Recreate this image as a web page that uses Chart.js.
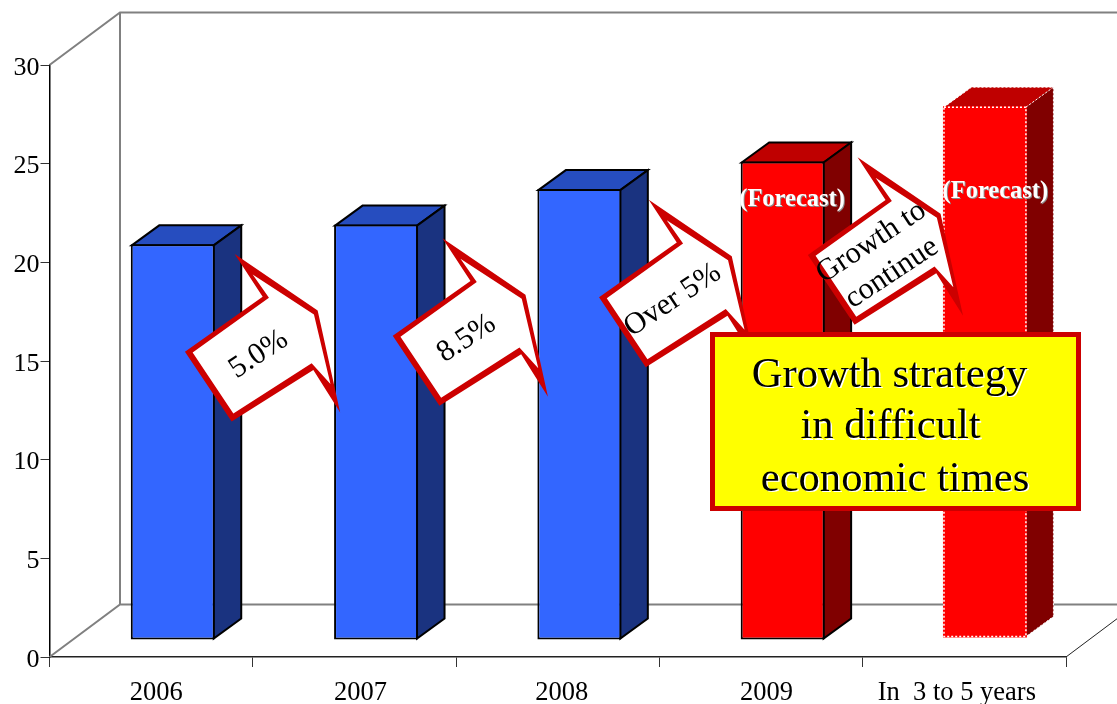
<!DOCTYPE html>
<html>
<head>
<meta charset="utf-8">
<style>html,body{margin:0;padding:0;background:#fff}canvas{display:block}</style>
<script src="https://cdn.jsdelivr.net/npm/chart.js@4/dist/chart.umd.min.js"></script>
</head>
<body>
<canvas id="c" width="1117" height="704"></canvas>
<script>
const categories = ['2006', '2007', '2008', '2009', 'In  3 to 5 years'];
const solidValues = [20.05, 21.05, 22.85, 24.25, null];
const dottedValues = [null, null, null, null, 26.95];
const frontColors = ['#3366FF', '#3366FF', '#3366FF', '#FF0000', '#FF0000'];
const topColors = ['#264DBF', '#264DBF', '#264DBF', '#BF0000', '#BF0000'];
const sideColors = ['#1A3380', '#1A3380', '#1A3380', '#800000', '#800000'];
const yTicks = [0, 5, 10, 15, 20, 25, 30];
const tickLabelShift = [5, 6, 4, 5.5, -7.5];
const calloutLines = [['5.0%'], ['8.5%'], ['Over 5%'], ['Growth to', 'continue']];
const calloutCategory = [0, 1, 2, 3];
const calloutShift = [84.5, 89, 92, 97.5];
const calloutLevel = [20.35, 21.15, 23.1, 25.25];
const forecastLabels = ['(Forecast)', '(Forecast)'];
const forecastCategory = [3, 4];
const forecastLevel = [23.2, 23.6];
const boxLines = ['Growth strategy', 'in difficult', 'economic times'];

const SERIF = '"Liberation Serif", "Times New Roman", serif';
Chart.defaults.font.family = SERIF;
const WALL = {dx: 70.5, dy: -52.5};
const SIDE = {dx: 27.5, dy: -20};
const SHIFTS = [{dx: 21.6, dy: -17}, {dx: 20.6, dy: -19}];
const OUTLINE = [[-1,-1.5],[82,55],[104.5,157],[77.7,114.5],[-4,166],[-50.7,96.2],[27,41.3]];
const INLINE = [[17,19],[78.3,59],[94.8,128.5],[76,107.8],[-2.3,158],[-43,97],[33.3,42.3]];

function poly(ctx, pts, fill, stroke, lw, dash) {
  ctx.save();
  ctx.beginPath();
  pts.forEach((p, i) => i ? ctx.lineTo(p[0], p[1]) : ctx.moveTo(p[0], p[1]));
  ctx.closePath();
  if (fill) { ctx.fillStyle = fill; ctx.fill(); }
  if (stroke) {
    ctx.strokeStyle = stroke; ctx.lineWidth = lw; ctx.lineJoin = 'miter'; ctx.miterLimit = 12;
    if (dash) ctx.setLineDash(dash);
    ctx.stroke();
  }
  ctx.restore();
}
function line(ctx, pts, color, lw) {
  ctx.save();
  ctx.strokeStyle = color; ctx.lineWidth = lw; ctx.beginPath();
  pts.forEach((p, i) => i ? ctx.lineTo(p[0], p[1]) : ctx.moveTo(p[0], p[1]));
  ctx.stroke(); ctx.restore();
}

const threeD = {
  id: 'threeD',
  beforeDraw(chart) {
    const items = chart.scales.x.getLabelItems();
    items.forEach((it, i) => { if (!it._moved) { it.options.translation[0] += tickLabelShift[i]; it._moved = true; } });
    const ctx = chart.ctx;
    ctx.save(); ctx.fillStyle = '#fff'; ctx.fillRect(0, 0, chart.width, chart.height); ctx.restore();
  },
  beforeDatasetsDraw(chart) {
    const ctx = chart.ctx, a = chart.chartArea;
    const L = a.left, R = a.right, T = a.top, B = a.bottom;
    const bx = L + WALL.dx, by = B + WALL.dy, ty = T + WALL.dy;
    const grey = '#808080';
    line(ctx, [[L, T], [bx, ty], [chart.width, ty]], grey, 2);
    line(ctx, [[bx, ty], [bx, by]], grey, 2);
    line(ctx, [[L, B], [bx, by], [chart.width, by]], grey, 2);
    line(ctx, [[R, B], [R + 52, B - 39]], '#222', 1);
  },
  beforeDatasetDraw(chart, args) {
    const ctx = chart.ctx, s = SHIFTS[args.index], dotted = args.index === 1;
    ctx.save();
    ctx.translate(s.dx, s.dy);
    args.meta.data.forEach((el, i) => {
      const v = chart.data.datasets[args.index].data[i];
      if (v === null) return;
      const l = el.x - el.width / 2, r = el.x + el.width / 2, t = el.y, b = el.base;
      const stroke = dotted ? null : '#000';
      poly(ctx, [[l + 1, t + 1], [l + 1 + SIDE.dx, t + 1 + SIDE.dy], [r - 1 + SIDE.dx, t + 1 + SIDE.dy], [r - 1, t + 1]], topColors[i], stroke, 2);
      poly(ctx, [[r - 1, t + 1], [r - 1 + SIDE.dx, t + 1 + SIDE.dy], [r - 1 + SIDE.dx, b - 1 + SIDE.dy], [r - 1, b - 1]], sideColors[i], stroke, 2);
    });
  },
  afterDatasetDraw(chart, args) {
    const ctx = chart.ctx;
    if (args.index === 1) {
      args.meta.data.forEach((el, i) => {
        const v = chart.data.datasets[1].data[i];
        if (v === null) return;
        const l = el.x - el.width / 2 + 1, r = el.x + el.width / 2 - 1, t = el.y + 1, b = el.base - 1;
        const d = [2, 2];
        poly(ctx, [[l, t], [r, t], [r, b], [l, b]], null, '#fff', 1.5, d);
        ctx.save(); ctx.setLineDash(d);
        line(ctx, [[l, t], [l + SIDE.dx, t + SIDE.dy], [r + SIDE.dx, t + SIDE.dy], [r + SIDE.dx, b + SIDE.dy], [r, b]], '#fff', 1);
        line(ctx, [[r, t], [r + SIDE.dx, t + SIDE.dy]], '#fff', 1);
        ctx.restore();
      });
    }
    ctx.restore();
  },
  afterDatasetsDraw(chart) {
    const ctx = chart.ctx, x = chart.scales.x, y = chart.scales.y;
    // forecast captions
    ctx.save();
    ctx.textAlign = 'center'; ctx.textBaseline = 'middle';
    ctx.font = 'bold 24.5px ' + SERIF;
    forecastLabels.forEach((txt, i) => {
      const px = x.getPixelForValue(forecastCategory[i]) + 31;
      const py = y.getPixelForValue(forecastLevel[i]);
      ctx.fillStyle = '#8a8a8a'; ctx.fillText(txt, px + 1, py + 1);
      ctx.fillStyle = '#fff'; ctx.fillText(txt, px, py);
    });
    ctx.restore();
    // arrow callouts
    calloutLines.forEach((lines, i) => {
      const ox = x.getPixelForValue(calloutCategory[i]) + calloutShift[i];
      const oy = y.getPixelForValue(calloutLevel[i]);
      poly(ctx, OUTLINE.map(p => [ox + p[0], oy + p[1]]), '#CC0000');
      poly(ctx, INLINE.map(p => [ox + p[0], oy + p[1]]), '#fff');
      ctx.save();
      ctx.translate(ox + 23, oy + 99);
      ctx.rotate(-33.5 * Math.PI / 180);
      ctx.fillStyle = '#000'; ctx.textAlign = 'center'; ctx.textBaseline = 'middle';
      ctx.font = '30.5px ' + SERIF;
      const gap = 37;
      lines.forEach((t, k) => ctx.fillText(t, 0, (k - (lines.length - 1) / 2) * gap));
      ctx.restore();
    });
    // headline box
    const bx = x.right - 356, by = y.top + 267, bw = 371, bh = 179;
    ctx.save();
    ctx.fillStyle = '#CC0000'; ctx.fillRect(bx, by, bw, bh);
    ctx.fillStyle = '#FFFF00'; ctx.fillRect(bx + 5, by + 5, bw - 10, bh - 10);
    ctx.textAlign = 'center'; ctx.textBaseline = 'alphabetic';
    ctx.font = '42.6px ' + SERIF;
    const cx = [179.5, 180.5, 185], base = [54.5, 106, 158.5];
    boxLines.forEach((t, i) => {
      ctx.fillStyle = '#fff'; ctx.fillText(t, bx + cx[i] + 1.5, by + base[i] + 1.5);
      ctx.fillStyle = '#000'; ctx.fillText(t, bx + cx[i], by + base[i]);
    });
    ctx.restore();
  }
};

new Chart(document.getElementById('c'), {
  type: 'bar',
  data: {
    labels: categories,
    datasets: [
      {label: 'Solid', data: solidValues, backgroundColor: frontColors, borderColor: '#000', borderWidth: 2, borderSkipped: false, clip: false, grouped: false, barPercentage: 0.413, categoryPercentage: 1},
      {label: 'Dotted', data: dottedValues, backgroundColor: frontColors, borderWidth: 0, clip: false, grouped: false, barPercentage: 0.413, categoryPercentage: 1}
    ]
  },
  plugins: [threeD],
  options: {
    responsive: false,
    animation: false,
    devicePixelRatio: 1,
    layout: {padding: {left: 0, right: 51, top: 65, bottom: 0}},
    plugins: {legend: {display: false}, tooltip: {enabled: false}, title: {display: false}},
    scales: {
      x: {
        afterFit(s) { s.height = 47; },
        grid: {display: true, drawOnChartArea: false, drawTicks: true, tickLength: 10, tickColor: '#333', offset: true},
        border: {display: true, color: '#222', width: 1.5},
        ticks: {color: '#000', font: {size: 26.5, family: SERIF}, padding: 10, maxRotation: 0, autoSkip: false}
      },
      y: {
        min: 0, max: 30,
        afterFit(s) { s.width = 49.5; },
        afterBuildTicks(s) { s.ticks = yTicks.map(v => ({value: v})); },
        grid: {display: true, drawOnChartArea: false, drawTicks: true, tickLength: 9, tickColor: '#333'},
        border: {display: true, color: '#000', width: 1.5},
        ticks: {color: '#000', font: {size: 26, family: SERIF}, padding: 1, labelOffset: 3}
      }
    }
  }
});
</script>
</body>
</html>
